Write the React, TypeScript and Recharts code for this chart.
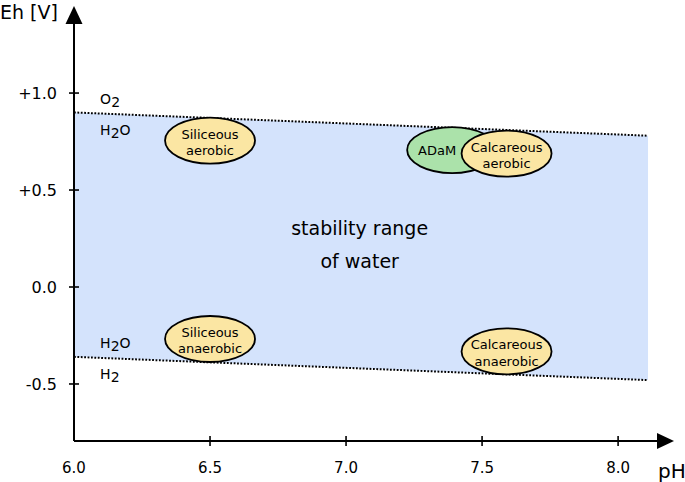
import React from 'react';
import { ComposedChart, XAxis, YAxis, Area, Line, ReferenceDot } from 'recharts';

// pH range of the water stability band
const phRange = [6.0, 8.11];
// O2/H2O boundary (upper) and H2O/H2 boundary (lower), Eh in V
const upperEh = [0.9, 0.78];
const lowerEh = [-0.36, -0.48];

const xTicks = [6.0, 6.5, 7.0, 7.5, 8.0];
const xTickLabels = ['6.0', '6.5', '7.0', '7.5', '8.0'];
const yTicks = [-0.5, 0.0, 0.5, 1.0];
const yTickLabels = ['-0.5', '0.0', '+0.5', '+1.0'];

// environment zones (ellipses)
const zoneNames = ['Siliceous|aerobic', 'ADaM', 'Calcareous|aerobic', 'Siliceous|anaerobic', 'Calcareous|anaerobic'];
const zonePh = [6.5, 7.39, 7.59, 6.5, 7.59];
const zoneEh = [0.755, 0.706, 0.688, -0.268, -0.332];

// species labels near the boundaries
const speciesLabels = [
  ['O', '2', ''],
  ['H', '2', 'O'],
  ['H', '2', 'O'],
  ['H', '2', ''],
];
const speciesPh = [6.096, 6.096, 6.096, 6.096];
const speciesEh = [0.943, 0.784, -0.314, -0.474];

const centerTextLines = ['stability range', 'of water'];
const centerTextPh = 7.05;
const centerTextEh = 0.183;

const X_DOMAIN: [number, number] = [6.0, 8.143];
const Y_DOMAIN: [number, number] = [-0.794, 1.356];

const FONT = 'DejaVu Sans, Verdana, sans-serif';
const BAND_FILL = '#d4e3fc';
const YELLOW = '#fbe6a3';
const GREEN = '#abe2aa';

const chartData = phRange.map((ph, i) => ({
  ph,
  high: upperEh[i],
  low: lowerEh[i],
  band: [lowerEh[i], upperEh[i]],
}));

const YTick = (props: any) => {
  const { x, y, payload } = props;
  const idx = yTicks.indexOf(payload.value);
  return (
    <g>
      <line x1={x - 5} x2={x + 5} y1={y} y2={y} stroke="#000" strokeWidth={1.6} />
      <text x={x - 17} y={y + 6} textAnchor="end" fontSize={16} fontFamily={FONT} fill="#000">
        {yTickLabels[idx]}
      </text>
    </g>
  );
};

const XTick = (props: any) => {
  const { x, y, payload } = props;
  const idx = xTicks.indexOf(payload.value);
  return (
    <g>
      {idx > 0 && <line x1={x} x2={x} y1={y - 5} y2={y + 5} stroke="#000" strokeWidth={1.6} />}
      <text x={x} y={y + 32} textAnchor="middle" fontSize={15} fontFamily={FONT} fill="#000">
        {xTickLabels[idx]}
      </text>
    </g>
  );
};

const zoneShape = (name: string) => (props: any) => {
  const { cx, cy } = props;
  const lines = name.split('|');
  const fill = name === 'ADaM' ? GREEN : YELLOW;
  return (
    <g>
      <ellipse cx={cx} cy={cy} rx={45} ry={23} fill={fill} stroke="#000" strokeWidth={1.8} />
      {lines.length === 1 ? (
        <text x={cx - 15} y={cy + 5} textAnchor="middle" fontSize={13} fontFamily={FONT} fill="#000">
          {lines[0]}
        </text>
      ) : (
        <text textAnchor="middle" fontSize={13} fontFamily={FONT} fill="#000">
          <tspan x={cx} y={cy - 2}>{lines[0]}</tspan>
          <tspan x={cx} y={cy + 14.5}>{lines[1]}</tspan>
        </text>
      )}
    </g>
  );
};

const speciesShape = (parts: string[]) => (props: any) => {
  const { cx, cy } = props;
  return (
    <text x={cx} y={cy} fontSize={14} fontFamily={FONT} fill="#000">
      <tspan>{parts[0]}</tspan>
      <tspan dy={3}>{parts[1]}</tspan>
      {parts[2] ? <tspan dy={-3}>{parts[2]}</tspan> : null}
    </text>
  );
};

const centerShape = (props: any) => {
  const { cx, cy } = props;
  return (
    <text textAnchor="middle" fontSize={19} fontFamily={FONT} fill="#000">
      <tspan x={cx} y={cy - 16.5}>{centerTextLines[0]}</tspan>
      <tspan x={cx} y={cy + 16.5}>{centerTextLines[1]}</tspan>
    </text>
  );
};

const rightArrow = (props: any) => {
  const { cx, cy } = props;
  return <polygon points={`${cx},${cy - 8} ${cx + 17},${cy} ${cx},${cy + 8}`} fill="#000" />;
};

const upArrow = (props: any) => {
  const { cx, cy } = props;
  return <polygon points={`${cx - 8.5},${cy} ${cx + 8.5},${cy} ${cx},${cy - 18}`} fill="#000" />;
};

const yAxisLabel = (props: any) => {
  const vb = props.viewBox || { x: 0, y: 24, width: 74 };
  return (
    <text x={vb.x} y={vb.y - 5.5} fontSize={19} fontFamily={FONT} fill="#000">
      Eh [V]
    </text>
  );
};

const xAxisLabel = (props: any) => {
  const vb = props.viewBox || { x: 74, y: 441, width: 583 };
  return (
    <text x={vb.x + vb.width + 1} y={vb.y + 37} fontSize={20} fontFamily={FONT} fill="#000">
      pH
    </text>
  );
};

export default function App() {
  return (
    <div style={{ position: 'absolute', left: 0, top: 0, width: 685, height: 482, background: '#fff' }}>
      <ComposedChart
        width={685}
        height={482}
        data={chartData}
        margin={{ top: 24, right: 28, bottom: 0, left: 0 }}
        style={{ overflow: 'visible' }}
      >
        <XAxis
          type="number"
          dataKey="ph"
          domain={X_DOMAIN}
          allowDataOverflow
          ticks={xTicks}
          interval={0}
          height={41}
          tickSize={0}
          tickMargin={0}
          tickLine={false}
          axisLine={{ stroke: '#000', strokeWidth: 2 }}
          tick={<XTick />}
          label={xAxisLabel}
        />
        <YAxis
          type="number"
          domain={Y_DOMAIN}
          allowDataOverflow
          ticks={yTicks}
          interval={0}
          width={74}
          tickSize={0}
          tickMargin={0}
          tickLine={false}
          axisLine={{ stroke: '#000', strokeWidth: 2 }}
          tick={<YTick />}
          label={yAxisLabel}
        />
        <Area
          type="linear"
          dataKey="band"
          stroke="none"
          fill={BAND_FILL}
          fillOpacity={1}
          isAnimationActive={false}
          activeDot={false}
        />
        <Line
          type="linear"
          dataKey="high"
          stroke="#000"
          strokeWidth={2}
          strokeDasharray="1.8 1.6"
          dot={false}
          activeDot={false}
          isAnimationActive={false}
        />
        <Line
          type="linear"
          dataKey="low"
          stroke="#000"
          strokeWidth={2}
          strokeDasharray="1.8 1.6"
          dot={false}
          activeDot={false}
          isAnimationActive={false}
        />
        {speciesLabels.map((parts, i) => (
          <ReferenceDot
            key={'sp' + i}
            x={speciesPh[i]}
            y={speciesEh[i]}
            r={0}
            ifOverflow="visible"
            shape={speciesShape(parts)}
          />
        ))}
        <ReferenceDot x={centerTextPh} y={centerTextEh} r={0} ifOverflow="visible" shape={centerShape} />
        {zoneNames.map((name, i) => (
          <ReferenceDot
            key={'z' + i}
            x={zonePh[i]}
            y={zoneEh[i]}
            r={0}
            ifOverflow="visible"
            shape={zoneShape(name)}
          />
        ))}
        <ReferenceDot x={X_DOMAIN[1]} y={Y_DOMAIN[0]} r={0} ifOverflow="visible" shape={rightArrow} />
        <ReferenceDot x={X_DOMAIN[0]} y={Y_DOMAIN[1]} r={0} ifOverflow="visible" shape={upArrow} />
      </ComposedChart>
    </div>
  );
}
